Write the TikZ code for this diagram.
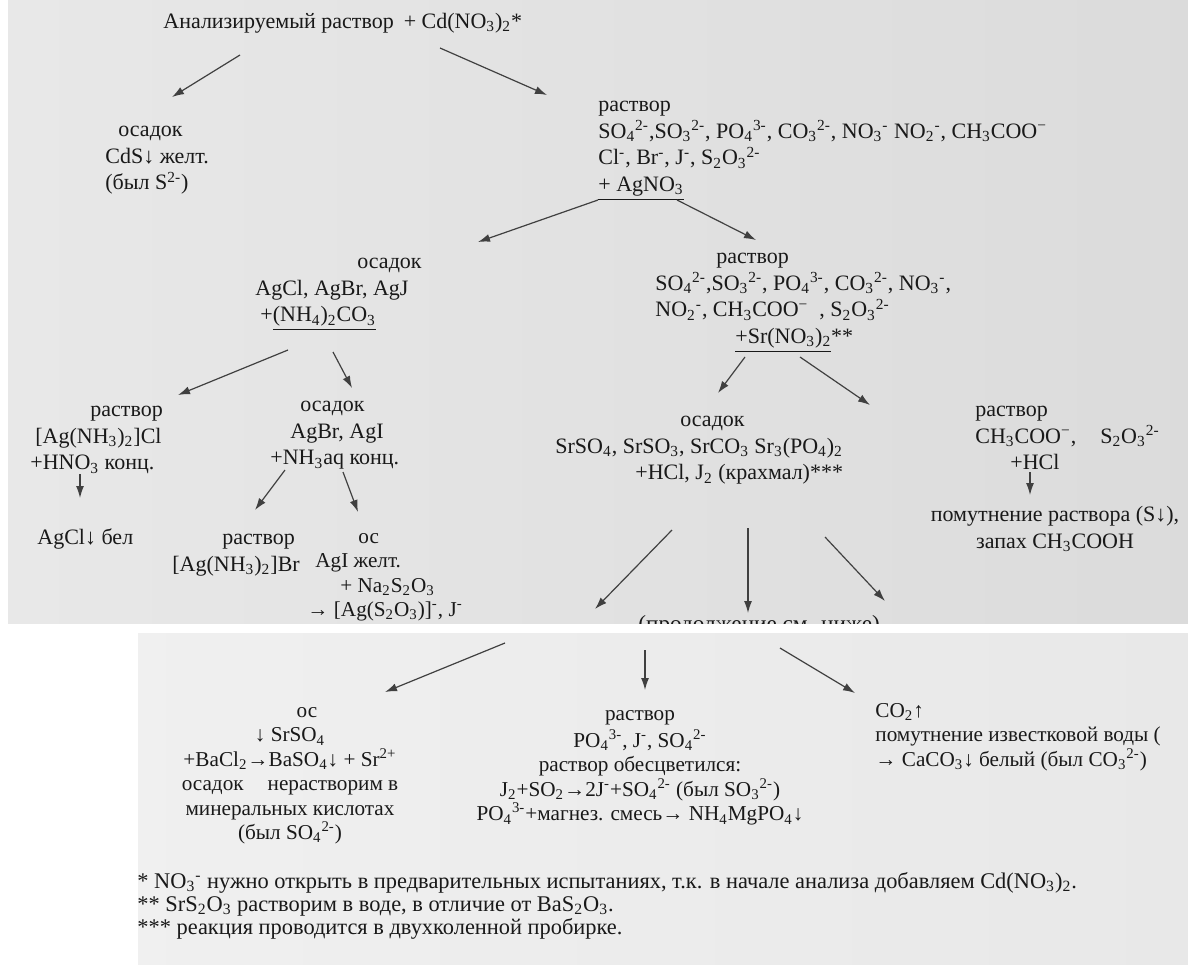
\documentclass[tikz,border=0pt]{standalone}
\usepackage{fontspec}
\setmainfont{Liberation Serif}
\usetikzlibrary{arrows.meta}
\newcommand{\sbs}[1]{\textsubscript{#1}}
\newcommand{\sps}[1]{\textsuperscript{#1}}
\newcommand{\chion}[3]{#1\sbs{#2}\sps{#3}}

\begin{document}
\begin{tikzpicture}[x=0.5pt,y=-0.5pt]
      \tikzset{ txt/.style ={inner sep=0pt, anchor=north west, align=left, text=black!90, font=\fontsize{11}{13.25}\selectfont} }
      \tikzset{ ctxt/.style={txt, anchor=north, align=center} }
      \tikzset{ low/.style ={font=\fontsize{10.6}{12.2}\selectfont} }
      \tikzset{ note/.style={txt, font=\fontsize{11.2}{11.5}\selectfont} }
      \tikzset{ flow/.style={->, >={Latex[length=6pt,width=4pt]}, draw=black!75, line width=0.6pt} }

      \useasboundingbox (0,0) rectangle (1188,964);
      % two pieces of the scanned sheet
      \shade[left color=black!9, middle color=black!3, right color=black!14] (8,0) rectangle (1188,623);
      \shade[left color=black!6, middle color=black!2, right color=black!9] (138,633) rectangle (1188,964);

      \node[txt, anchor=base west] (title) at (163,28) {Анализируемый раствор\hspace{5pt}+ Cd(NO\sbs{3})\sbs{2}*};

      \node[txt] (cds) at (105,118) {\strut\hspace*{6.5pt}осадок\\CdS↓ желт.\\(был S\sps{2-})};
      \node[txt] (rA)  at (598,93)  {\strut раствор\\
        \chion{SO}{4}{2-},\chion{SO}{3}{2-}, \chion{PO}{4}{3-}, \chion{CO}{3}{2-}, \chion{NO}{3}{-} \chion{NO}{2}{-}, CH\sbs{3}COO\sps{−}\\
        Cl\sps{-}, Br\sps{-}, J\sps{-}, \chion{S\sbs{2}O}{3}{2-}\\
        \underline{+ AgNO\sbs{3}}};

      \draw[flow] ([shift={(77,27)}]title.base west) -- ([shift={(67,-21)}]cds.north west);
      \draw[flow] ([shift={(277,20)}]title.base west) -- ([shift={(-51,2)}]rA.north west);

      \node[txt] (agcl) at (255,250) {\strut\hspace*{51pt}осадок\\AgCl, AgBr, AgJ\\\hspace*{2.5pt}+\underline{(NH\sbs{4})\sbs{2}CO\sbs{3}}};
      \node[txt] (rB)   at (655,245) {\strut\hspace*{30.5pt}раствор\\
        \chion{SO}{4}{2-},\chion{SO}{3}{2-}, \chion{PO}{4}{3-}, \chion{CO}{3}{2-}, \chion{NO}{3}{-},\\
        \chion{NO}{2}{-}, CH\sbs{3}COO\sps{−}\ \ , \chion{S\sbs{2}O}{3}{2-}\\
        \hspace*{40pt}\underline{+Sr(NO\sbs{3})\sbs{2}}**};

      \draw[flow] ([shift={(0,107)}]rA.north west) -- ([shift={(223,-8)}]agcl.north west);
      \draw[flow] ([shift={(79,107)}]rA.north west) -- ([shift={(101,-5)}]rB.north west);

      \node[txt] (rC)    at (30,398)  {\strut\hspace*{30pt}раствор\\\hspace*{2.5pt}{[}Ag(NH\sbs{3})\sbs{2}]Cl\\+HNO\sbs{3} конц.};
      \node[txt] (agclw) at (37,526)  {\strut AgCl↓ бел};
      \node[txt] (agbr)  at (270,393) {\strut\hspace*{15pt}осадок\\\hspace*{10pt}AgBr, AgI\\+NH\sbs{3}aq конц.};
      \node[txt] (rD)    at (172,526) {\strut\hspace*{25pt}раствор\\{[}Ag(NH\sbs{3})\sbs{2}]Br};
      \node[txt, low] (agi) at (307,526) {\strut\hspace*{25.5pt}ос\\\hspace*{4pt}AgI желт.\\\hspace*{16.5pt}+ Na\sbs{2}S\sbs{2}O\sbs{3}\\→ [Ag(S\sbs{2}O\sbs{3})]\sps{-}, J\sps{-}};

      \draw[flow] ([shift={(33,100)}]agcl.north west) -- ([shift={(148,-3)}]rC.north west);
      \draw[flow] ([shift={(78,102)}]agcl.north west) -- ([shift={(82,-5)}]agbr.north west);
      \draw[flow] ([shift={(50,76)}]rC.north west)    -- ([shift={(43,-28)}]agclw.north west);
      \draw[flow] ([shift={(15,77)}]agbr.north west)  -- ([shift={(83,-16)}]rD.north west);
      \draw[flow] ([shift={(73,79)}]agbr.north west)  -- ([shift={(51,-14)}]agi.north west);

      \node[txt] (srp) at (555,408) {\strut\hspace*{62.5pt}осадок\\SrSO\sbs{4}, SrSO\sbs{3}, SrCO\sbs{3} Sr\sbs{3}(PO\sbs{4})\sbs{2}\\\hspace*{40pt}+HCl, J\sbs{2} (крахмал)***};
      \node[txt] (rE)  at (975,398) {\strut раствор\\CH\sbs{3}COO\sps{−},\hspace{12pt}\chion{S\sbs{2}O}{3}{2-}\\\hspace*{17.5pt}+HCl};
      \node[ctxt] (pom) at (1055,503) {\strut помутнение раствора (S↓),\\запах CH\sbs{3}COOH};

      \draw[flow] ([shift={(90,112)}]rB.north west)  -- ([shift={(163,-15)}]srp.north west);
      \draw[flow] ([shift={(145,112)}]rB.north west) -- ([shift={(-105,7)}]rE.north west);
      \draw[flow] ([shift={(55,74)}]rE.north west)   -- ([shift={(-25,-8)}]pom.north);

      \begin{scope}
        \clip (8,0) rectangle (1188,623);
        \node[txt, anchor=base west, font=\fontsize{11.6}{13}\selectfont] (cont) at (638,631) {(продолжение см. ниже)};
      \end{scope}

      \draw[flow] ([shift={(117,122)}]srp.north west) -- ([shift={(-43,-22)}]cont.base west);
      \draw[flow] ([shift={(193,120)}]srp.north west) -- ([shift={(110,-18)}]cont.base west);
      \draw[flow] ([shift={(270,129)}]srp.north west) -- ([shift={(247,-30)}]cont.base west);

      % continuation of the scheme
      \coordinate (split) at (645,645);

      \node[ctxt, low] (os2) at (290,700) {\strut\hspace*{17pt}ос\\↓ SrSO\sbs{4}\\+BaCl\sbs{2}→BaSO\sbs{4}↓ + Sr\sps{2+}\\осадок\hspace{12pt}нерастворим в\\минеральных кислотах\\(был \chion{SO}{4}{2-})};
      \node[ctxt, low] (rF)  at (640,703) {\strut раствор\\\chion{PO}{4}{3-}, J\sps{-}, \chion{SO}{4}{2-}\\раствор обесцветился:\\J\sbs{2}+SO\sbs{2}→2J\sps{-}+\chion{SO}{4}{2-} (был \chion{SO}{3}{2-})\\\chion{PO}{4}{3-}+магнез. смесь→ NH\sbs{4}MgPO\sbs{4}↓};
      \node[txt, low]  (co2) at (875,700) {\strut CO\sbs{2}↑\\помутнение известковой воды (\\→ CaCO\sbs{3}↓ белый (был \chion{CO}{3}{2-})};

      \draw[flow] ([shift={(-140,-2)}]split) -- ([shift={(95,-8)}]os2.north);
      \draw[flow] ([shift={(0,5)}]split)     -- ([shift={(5,-13)}]rF.north);
      \draw[flow] ([shift={(135,3)}]split)   -- ([shift={(-20,-7)}]co2.north west);

      \node[note] (notes) at (137,872) {\strut * \chion{NO}{3}{-} нужно открыть в предварительных испытаниях, т.к. в начале анализа добавляем Cd(NO\sbs{3})\sbs{2}.\\
        ** SrS\sbs{2}O\sbs{3} растворим в воде, в отличие от BaS\sbs{2}O\sbs{3}.\\
        *** реакция проводится в двухколенной пробирке.};
\end{tikzpicture}
\end{document}
